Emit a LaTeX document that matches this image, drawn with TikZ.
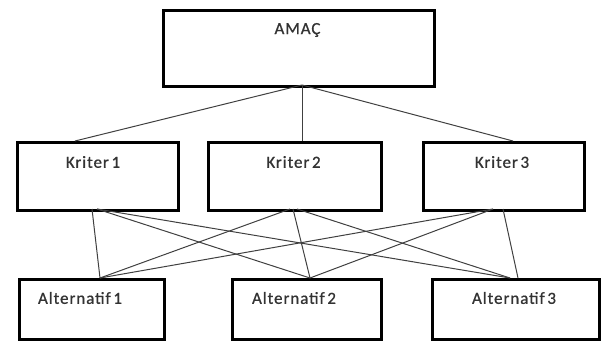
\documentclass[tikz,border=0pt]{standalone}
\usepackage{fontspec}
\setmainfont{Carlito}[LetterSpace=5.5,WordSpace=0.55,FakeBold=0.8]
\begin{document}
\begin{tikzpicture}[x=1pt,y=-1pt,
  box/.style={draw=black,line width=2.6pt,rectangle,inner sep=0pt,anchor=north west},
  lbl/.style={font=\fontsize{17}{19}\selectfont,text=black!80,inner sep=0pt},
  conn/.style={draw=black!75,line width=1pt}]
\useasboundingbox (0,0) rectangle (604,340);
% boxes
\node[box,minimum width=271pt,minimum height=76pt] (goal) at (162,9) {};
\node[box,minimum width=161pt,minimum height=68pt] (k1) at (16,141) {};
\node[box,minimum width=173pt,minimum height=68pt] (k2) at (207,141) {};
\node[box,minimum width=161pt,minimum height=68pt] (k3) at (422,141) {};
\node[box,minimum width=145pt,minimum height=60pt] (a1) at (18,278) {};
\node[box,minimum width=149pt,minimum height=60pt] (a2) at (231,278) {};
\node[box,minimum width=167pt,minimum height=60pt] (a3) at (431,278) {};
% texts
\node[lbl] (tg) at (297.5,30) {AMAÇ};
\node[lbl] (t1) at (93,162) {Kriter 1};
\node[lbl] (t2) at (293.5,162) {Kriter 2};
\node[lbl] (t3) at (502,162) {Kriter 3};
\node[lbl] (u1) at (80,298) {Alternatif 1};
\node[lbl] (u2) at (294,298) {Alternatif 2};
\node[lbl] (u3) at (514,298) {Alternatif 3};
% connection points
\coordinate (gb) at (302,85);
\coordinate (k1t) at (75,141);
\coordinate (k2t) at (302,141);
\coordinate (k3t) at (513,141);
\coordinate (k1a) at (92,209);
\coordinate (k1b) at (97,209);
\coordinate (k2a) at (290,209);
\coordinate (k2b) at (293,209);
\coordinate (k2c) at (297,209);
\coordinate (k3a) at (493,209);
\coordinate (k3b) at (503,209);
\coordinate (a1t) at (100,278);
\coordinate (a2t) at (310,278);
\coordinate (a3t) at (510,278);
\coordinate (a3u) at (518,278);
% connectors
\draw[conn] (gb) -- (k1t);
\draw[conn] (gb) -- (k2t);
\draw[conn] (gb) -- (k3t);
\draw[conn] (k1a) -- (a1t);
\draw[conn] (k1b) -- (a2t);
\draw[conn] (k1b) -- (a3t);
\draw[conn] (k2a) -- (a1t);
\draw[conn] (k2b) -- (a2t);
\draw[conn] (k2c) -- (a3t);
\draw[conn] (k3a) -- (a1t);
\draw[conn] (k3a) -- (a2t);
\draw[conn] (k3b) -- (a3u);
\end{tikzpicture}
\end{document}
